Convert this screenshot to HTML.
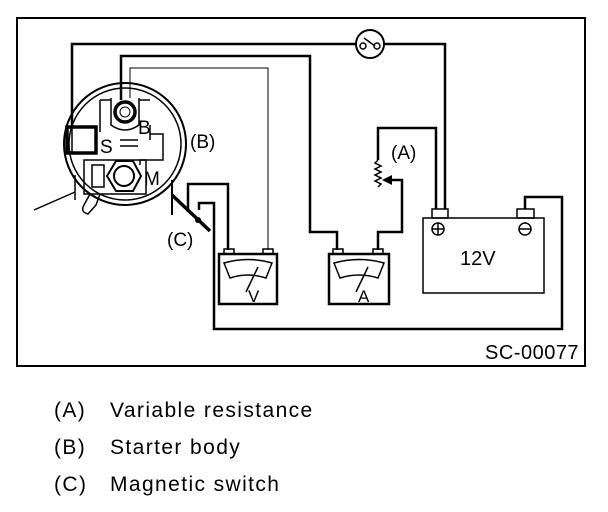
<!DOCTYPE html>
<html><head><style>body{margin:0;background:#fff}svg{display:block}</style></head><body>
<svg width="608" height="512" viewBox="0 0 608 512" xmlns="http://www.w3.org/2000/svg" font-family="Liberation Sans, Arial, sans-serif">
<rect x="17" y="18" width="568" height="348" fill="none" stroke="#000" stroke-width="2"/>
<g fill="none" stroke="#000">
<polyline points="72,128 72,44 356,44" stroke-width="2.5"/>
<polyline points="384,44 445,44 445,209" stroke-width="2.5"/>
<circle cx="370" cy="44" r="14" stroke-width="2"/>
<circle cx="363" cy="46" r="3" stroke-width="1.5"/>
<circle cx="377" cy="46" r="3" stroke-width="1.5"/>
<line x1="364" y1="38" x2="375" y2="46" stroke-width="1.5"/>
<polyline points="121,100 121,56 310,56 310,232 337,232 337,250" stroke-width="2.5"/>
<polyline points="130,98 130,68 268,68 268,250" stroke-width="1"/>
<polyline points="436,209 436,128 378,128 378,160" stroke-width="2.5"/>
<polyline points="378,160 375,163 381,166 375,169 381,172 375,175 381,178 375,181 381,184 378,187" stroke-width="1.5"/>
<polyline points="378,250 378,232 402,232 402,180 388,180" stroke-width="2.5"/>
<polyline points="188,212 188,184 228,184 228,250" stroke-width="2.5"/>
<polyline points="199,210 199,203 214,203 214,329 562,329 562,197 525,197 525,209" stroke-width="2.5"/>
<line x1="172" y1="180" x2="172" y2="215" stroke-width="2"/>
<line x1="172" y1="195" x2="210" y2="231" stroke-width="3.5"/>
<rect x="219" y="254" width="58" height="50" stroke-width="2.5"/>
<rect x="224" y="249" width="10" height="5" stroke-width="1.5"/>
<rect x="263" y="249" width="10" height="5" stroke-width="1.5"/>
<path d="M224,263 Q248,256 272,263 L266,278 Q248,272 230,278 Z" stroke-width="1.5"/>
<line x1="246" y1="292" x2="258" y2="267" stroke-width="1.5"/>
<rect x="329" y="254" width="60" height="50" stroke-width="2.5"/>
<rect x="333" y="249" width="10" height="5" stroke-width="1.5"/>
<rect x="373" y="249" width="10" height="5" stroke-width="1.5"/>
<path d="M334,263 Q359,256 384,263 L378,278 Q359,272 340,278 Z" stroke-width="1.5"/>
<line x1="356" y1="292" x2="368" y2="267" stroke-width="1.5"/>
<rect x="423" y="218" width="121" height="75" stroke-width="1.5"/>
<rect x="432" y="209" width="16" height="9" stroke-width="1.5"/>
<rect x="517" y="209" width="17" height="9" stroke-width="1.5"/>
<circle cx="438" cy="229" r="6" stroke-width="1.5"/>
<line x1="432" y1="229" x2="444" y2="229" stroke-width="1.5"/>
<line x1="438" y1="223" x2="438" y2="235" stroke-width="1.5"/>
<circle cx="525" cy="229" r="6" stroke-width="1.5"/>
<line x1="519" y1="229" x2="531" y2="229" stroke-width="1.5"/>
<circle cx="125" cy="144" r="61" stroke-width="2"/>
<circle cx="125" cy="144" r="56" stroke-width="1.5"/>
<path d="M111,98 L111,125 Q125,135 139,125 L139,98" stroke-width="1.5"/>
<circle cx="125" cy="112" r="10" stroke-width="3.5"/>
<circle cx="125" cy="112" r="5" stroke-width="1"/>
<path d="M100,100 L111,100 M139,100 L150,100 M100,100 L100,132 M150,125 L150,140 M150,134 L163,134 L163,160 L140,160 L140,165" stroke-width="1.5"/>
<path d="M120,140 L138,140 M120,146 L138,146" stroke-width="1.5"/>
<rect x="67" y="127" width="29" height="26" stroke-width="3.5"/>
<line x1="72" y1="127" x2="72" y2="153" stroke-width="1.5"/>
<rect x="84" y="160" width="62" height="34" stroke-width="1.5"/>
<rect x="92" y="165" width="12" height="22" stroke-width="1.5"/>
<polygon points="141,176 133,191 116,191 107,176 116,161 133,161" stroke-width="2"/>
<circle cx="124" cy="176" r="10" stroke-width="2"/>
<path d="M90,194 L84,205 Q80,212 88,214 L96,205 L100,194" stroke-width="1.5"/>
<line x1="34" y1="210" x2="75" y2="192" stroke-width="1.5"/>
<line x1="75" y1="175" x2="75" y2="200" stroke-width="1.5"/>
</g>
<polygon points="382,180 392,175 392,185" fill="#000"/>
<circle cx="198" cy="220" r="3" fill="#000"/>
<g font-size="19" fill="#000">
<text x="138" y="134">B</text>
<text x="100" y="153">S</text>
<text x="144" y="185">M</text>
<text x="190" y="148">(B)</text>
<text x="167" y="246">(C)</text>
<text x="391" y="159">(A)</text>
<text x="460" y="265" font-size="20">12V</text>
<text x="248" y="302" font-size="17">V</text>
<text x="358" y="302" font-size="17">A</text>
<text x="485" y="359" font-size="20" letter-spacing="0.5">SC-00077</text>
</g>
<g font-size="21" fill="#000" letter-spacing="1.4">
<text x="54" y="417">(A)</text><text x="110" y="417">Variable resistance</text>
<text x="54" y="454">(B)</text><text x="110" y="454">Starter body</text>
<text x="54" y="491">(C)</text><text x="110" y="491">Magnetic switch</text>
</g>
</svg>
</body></html>
